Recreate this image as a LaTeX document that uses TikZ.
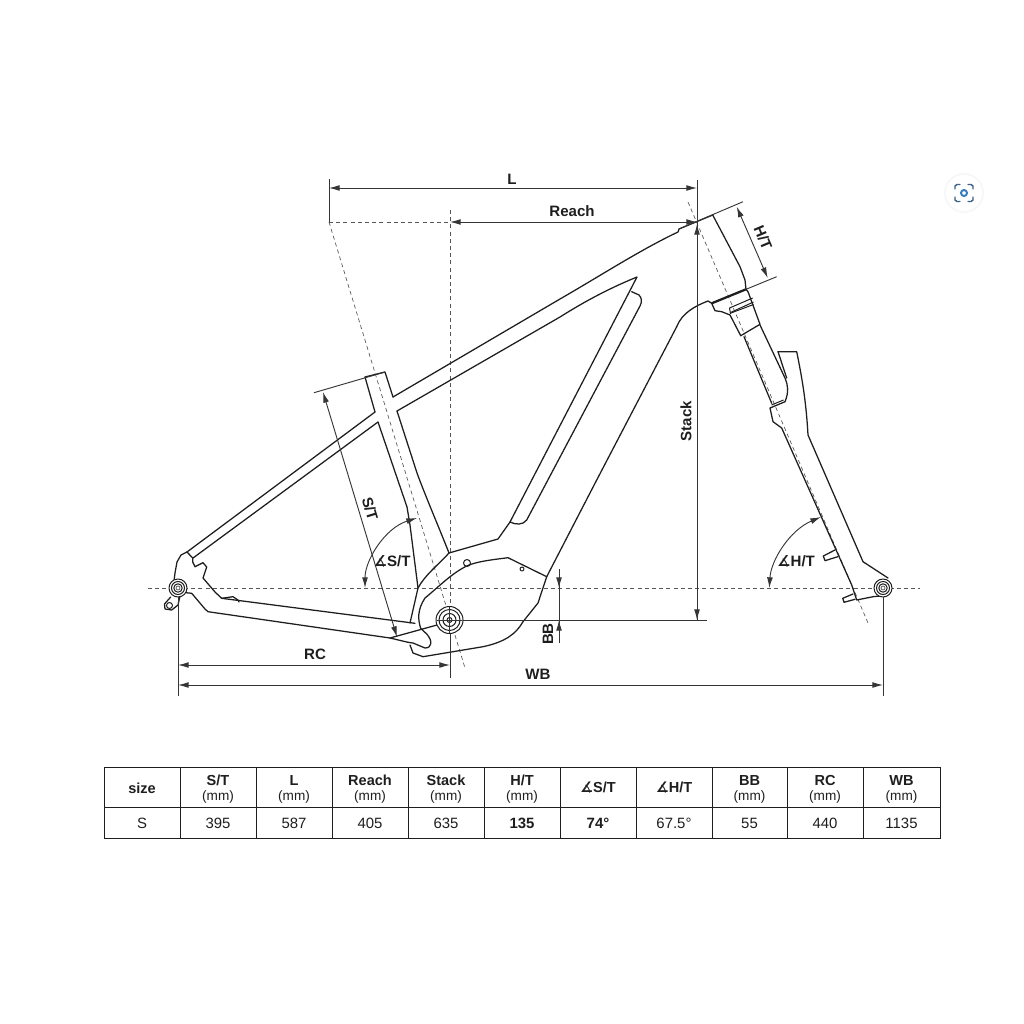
\documentclass[tikz,border=0pt]{standalone}
\usepackage{fontspec}
\setmainfont{Liberation Sans}
\newfontfamily\angfont{DejaVu Sans}
\usetikzlibrary{arrows.meta}
\newcommand{\angsym}{{\angfont\char"2221}}
\definecolor{ink}{HTML}{1E1E1E}
\definecolor{lensblue}{HTML}{3A80BE}
\definecolor{lensdark}{HTML}{3F6387}
\tikzset{
  frameline/.style={draw=ink,line width=.95pt,line join=round,line cap=round},
  thinframe/.style={draw=ink,line width=.75pt,line join=round},
  dimline/.style={draw=ink!90,line width=.7pt},
  dimarrow/.style={dimline,{Latex[length=8pt,width=4.4pt]}-{Latex[length=8pt,width=4.4pt]}},
  centerline/.style={draw=ink!75,line width=.5pt,dash pattern=on 3pt off 2.4pt},
  dimtext/.style={font=\fontsize{11.3pt}{12pt}\selectfont\bfseries,text=ink,inner sep=0pt},
  headtext/.style={font=\fontsize{10.9pt}{12pt}\selectfont\bfseries,text=ink,inner sep=0pt},
  unittext/.style={font=\fontsize{10.2pt}{12pt}\selectfont,text=ink,inner sep=0pt},
  valtext/.style={font=\fontsize{11.2pt}{12pt}\selectfont,text=ink,inner sep=0pt},
  gridline/.style={draw=ink,line width=.6pt},
  lensmark/.style={draw=lensdark,line width=1.1pt,line cap=round}
}
\begin{document}
\begin{tikzpicture}[x=.75pt,y=-.75pt]
\useasboundingbox (0,0) rectangle (1024,1024);
% lens badge
\fill[black!3] (964,193) circle (20);
\fill[white] (964,193) circle (18);
\draw[lensmark] (955,189) -- (955,186) -- (957,184.5) -- (960,184.5);
\draw[lensmark] (968,184.5) -- (971,184.5) -- (973,186) -- (973,189);
\draw[lensmark] (955,197) -- (955,200) -- (957,201.5) -- (960,201.5);
\draw[lensmark] (968,201.5) -- (971,201.5) -- (973,200) -- (973,197);
\draw[lensblue,line width=1.5pt] (964,193) circle (3);
% centre lines
\coordinate (wheelL) at (148,588);
\coordinate (wheelR) at (920,588);
\draw[centerline] (wheelL) -- (wheelR);
\draw[centerline] (329,222) -- (465,668);
\draw[centerline] (688,202) -- (868,623);
\draw[centerline] (329,222) -- (450,222);
\draw[centerline] (450,210) -- (450,606);
% top tube
\draw[frameline] (393,397) -- (560,299) .. controls (600,276) and (640,250) .. (678,232) -- (679,229) -- (712.7,215);
\draw[frameline] (397,411) -- (560,317) .. controls (590,298) and (615,286) .. (637,277) -- (510,522) -- (498,539) -- (449,553);
% seat tube
\draw[frameline] (375,412) -- (365,377) -- (385,372) -- (393,397);
\draw[frameline] (397,411) -- (417,473) .. controls (425,495) and (440,530) .. (449,553);
\draw[frameline] (378,422) -- (407,507) -- (410,525) -- (418,588) -- (410,623);
% seat stays
\draw[frameline] (375,412) -- (187,552) -- (192.7,558);
\draw[frameline] (378,422) -- (193,558);
% rear dropout
\draw[frameline] (187,552) -- (181,555) -- (177,562) -- (175,573) -- (174,581);
\draw[frameline] (192.7,558) -- (192.7,562) -- (195,566.7) -- (203,562.7) -- (206.7,567) -- (203,578) -- (215,592) -- (221.7,598.3) -- (233,596.7) -- (238,600) -- (239,602);
\draw[frameline] (221.7,598.3) -- (415,623.3);
\draw[frameline] (186,592.7) -- (191.7,593.3) -- (205,609) -- (208,611.7) -- (390,638) -- (408,642.3);
\draw[frameline] (180,596) -- (178,605) -- (171.7,610) -- (165,609) -- (164.5,604) -- (170.7,597);
\draw[thinframe] (169.5,605.5) circle (3);
% bottom bracket shell
\draw[frameline] (390,638) -- (437,625);
\draw[frameline] (408,642.3) -- (413,643) -- (425,648) .. controls (432,648) and (433,641) .. (426.7,634) -- (420.7,628.3) .. controls (418,620) and (417,610) .. (425,598) .. controls (435,590) and (450,575) .. (463,568) .. controls (472,562) and (490,560) .. (508,557.7) -- (546.7,576.7);
\draw[frameline] (410,645) -- (413,653) -- (423,656.7) -- (483,646.7) .. controls (505,642) and (516,634) .. (523,621.7) -- (538,603) -- (546.7,576.7) -- (596.7,480) -- (676.7,326.7) .. controls (682,313) and (695,306) .. (708,301) -- (711.7,303.3);
\draw[frameline] (418,588) .. controls (425,575) and (438,565) .. (449,553);
\draw[thinframe] (467,563) circle (3.5);
\draw[thinframe] (522,569) circle (2);
% battery cover
\draw[frameline] (631.7,291.7) -- (639,295) .. controls (642,298) and (642,302) .. (640,306) -- (526.7,520) .. controls (523,525) and (516,525) .. (510,522);
% head tube
\draw[frameline] (712.7,215) -- (740,266.7) -- (745,280) -- (746,289.3);
\draw[dimline] (679,229) -- (743,201.7);
\draw[dimline] (746,289.3) -- (776.7,276.7);
\draw[dimline] (314,392.7) -- (385,372);
% headset
\draw[draw=ink,line width=1.7pt] (711.7,303.3) -- (746,289.3);
\draw[frameline] (711.7,303.3) -- (715,310.7) -- (721.7,311.7) -- (730,315) -- (740.7,335.7) -- (760,324.3) -- (748,291.7) -- (746,289.3);
\draw[thinframe] (729.5,308) -- (752.7,298);
\draw[thinframe] (730.5,312.5) -- (753.5,302);
\draw[thinframe] (731,313) -- (753.5,304.5);
\draw[thinframe] (729.5,308) -- (730.5,314);
% fork
\draw[frameline] (744,336.7) -- (771.7,403.3);
\draw[frameline] (760,325) -- (785,378) .. controls (788,385) and (789,392) .. (785,401.7) -- (770,408) -- (773,421.7) -- (781.7,428) -- (851.7,585) -- (856.7,600) -- (873,596.7) -- (880,596);
\draw[thinframe] (771.5,405) -- (783.5,400);
\draw[frameline] (778,351.7) -- (786.7,378);
\draw[frameline] (778,351.7) -- (796.7,351.7) .. controls (802,378) and (806,400) .. (808,435) -- (863,561.7) -- (888,578);
\draw[frameline] (835,550) -- (823.3,556) -- (825,560.7) -- (837.7,556.7);
\draw[frameline] (853,594) -- (842.7,598.3) -- (844,602.3) -- (855,599.3);
% dimension extension lines
\coordinate (Ltop) at (329,179);
\coordinate (Lfoot) at (329,222);
\coordinate (Rtop) at (697,180);
\coordinate (Rfoot) at (697,620);
\draw[dimline] (Ltop) -- (Lfoot);
\draw[dimline] (Rtop) -- (Rfoot);
\draw[dimline] (450,606) -- (450,678);
\draw[dimline] (437,620) -- (707,620);
\draw[dimline] (178,597) -- (178,696);
\draw[dimline] (883,597) -- (883,696);
% dimensions
\coordinate (LR) at (697,188);
\coordinate (LL) at (329,188);
\draw[dimarrow] (LL) -- (LR);
\coordinate (ReachR) at (697,222);
\coordinate (ReachL) at (450,222);
\draw[dimarrow] (ReachL) -- (ReachR);
\coordinate (StackT) at (697,224);
\draw[dimarrow] (StackT) -- (Rfoot);
\draw[dimarrow] (323,392) -- (397,637);
\draw[dimarrow] (736.7,206.7) -- (767.7,278);
\draw[dimline] (559,569) -- (559,643);
\draw[dimline,-{Latex[length=8pt,width=4.4pt]}] (559,575) -- (559,588);
\draw[dimline,-{Latex[length=8pt,width=4.4pt]}] (559,635) -- (559,620);
\draw[dimarrow] (178,665) -- (450,665);
\draw[dimarrow] (178,685) -- (883,685);
\draw[dimarrow] (365,588) .. controls (365,560) and (385,528) .. (417,518);
\draw[dimarrow] (769.3,588) .. controls (771,560) and (790,530) .. (821,517);
% axles
\foreach \cx/\cy/\rr in {449.5/620/13.5,449.5/620/10.5,449.5/620/6.5}{\draw[thinframe,fill=white] (\cx,\cy) circle (\rr);}
\draw[thinframe] (449.5,620) circle (2.5);
\draw[dimline] (437,620) -- (462,620);
\draw[dimline] (449.5,607) -- (449.5,633);
\foreach \cx/\cy in {178/588,883/588}{
  \draw[thinframe,fill=white] (\cx,\cy) circle (9);
  \draw[thinframe] (\cx,\cy) circle (6.5);
  \draw[thinframe] (\cx,\cy) circle (4.2);
  \draw[draw=ink!70,line width=.6pt] (\cx,\cy) circle (2);
}
% labels
\node[dimtext] (lL) at (512,179) {L};
\node[dimtext] (lReach) at (572,211) {Reach};
\node[dimtext,rotate=90] (lStack) at (686,421) {Stack};
\node[dimtext,rotate=-67] (lHT) at (763,238) {H/T};
\node[dimtext,rotate=-73] (lST) at (370,509) {S/T};
\node[dimtext] (lAST) at (392,561) {\angsym S/T};
\node[dimtext] (lAHT) at (796,561) {\angsym H/T};
\node[dimtext,rotate=90] (lBB) at (548,634) {BB};
\node[dimtext] (lRC) at (315,654) {RC};
\node[dimtext] (lWB) at (538,674) {WB};
% table grid
\draw[gridline] (104,767) rectangle (940,838.5);
\draw[gridline] (104,807) -- (940,807);
\foreach \gx in {180,256,332,408,484,560,636,712,787,863}{\draw[gridline] (\gx,767) -- (\gx,838.5);}
% table text
\node[headtext] (tsize) at (142,788) {size};
\node[headtext] (t1) at (218,780) {S/T};
\node[unittext] (u1) at (218,797) {(mm)};
\node[headtext] (t2) at (294,780) {L};
\node[unittext] (u2) at (294,797) {(mm)};
\node[headtext] (t3) at (370,780) {Reach};
\node[unittext] (u3) at (370,797) {(mm)};
\node[headtext] (t4) at (446,780) {Stack};
\node[unittext] (u4) at (446,797) {(mm)};
\node[headtext] (t5) at (522,780) {H/T};
\node[unittext] (u5) at (522,797) {(mm)};
\node[headtext] (t6) at (598,788) {\angsym S/T};
\node[headtext] (t7) at (674,788) {\angsym H/T};
\node[headtext] (t8) at (749.5,780) {BB};
\node[unittext] (u8) at (749.5,797) {(mm)};
\node[headtext] (t9) at (825,780) {RC};
\node[unittext] (u9) at (825,797) {(mm)};
\node[headtext] (t10) at (901.5,780) {WB};
\node[unittext] (u10) at (901.5,797) {(mm)};
\node[valtext] (v0) at (142,823) {S};
\node[valtext] (v1) at (218,823) {395};
\node[valtext] (v2) at (294,823) {587};
\node[valtext] (v3) at (370,823) {405};
\node[valtext] (v4) at (446,823) {635};
\node[valtext] (v5) at (522,823) {\bfseries 135};
\node[valtext] (v6) at (598,823) {\bfseries 74°};
\node[valtext] (v7) at (674,823) {67.5°};
\node[valtext] (v8) at (749.5,823) {55};
\node[valtext] (v9) at (825,823) {440};
\node[valtext] (v10) at (901.5,823) {1135};
\end{tikzpicture}
\end{document}
